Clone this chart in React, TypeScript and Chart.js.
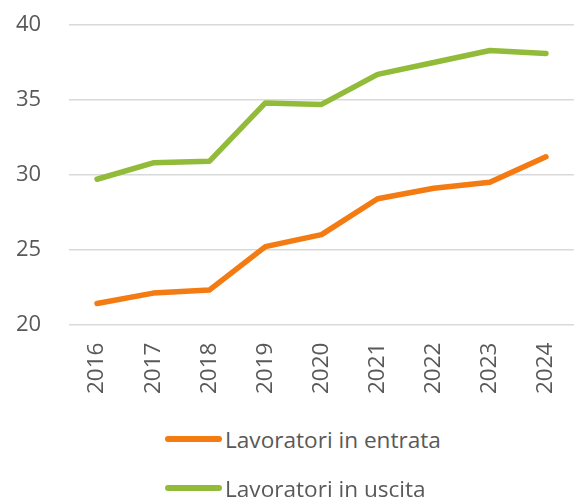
import React, { useEffect, useRef } from "react";
import { Chart, registerables } from "chart.js";

Chart.register(...registerables);

const years = ["2016", "2017", "2018", "2019", "2020", "2021", "2022", "2023", "2024"];
const entrata = [21.4, 22.1, 22.3, 25.2, 26.0, 28.4, 29.1, 29.5, 31.2];
const uscita = [29.7, 30.8, 30.9, 34.8, 34.7, 36.7, 37.5, 38.3, 38.1];
const seriesNames = ["Lavoratori in entrata", "Lavoratori in uscita"];
const seriesColors = ["#F47A12", "#92BB3A"];

const FONT = "'Open Sans', sans-serif";
const TEXT = "#595959";

export default function App() {
  const ref = useRef<HTMLCanvasElement | null>(null);

  useEffect(() => {
    if (!ref.current) return;
    const chart = new Chart(ref.current, {
      type: "line",
      data: {
        labels: years,
        datasets: [
          {
            label: seriesNames[0],
            data: entrata,
            borderColor: seriesColors[0],
            backgroundColor: seriesColors[0],
            borderWidth: 5.5,
            pointRadius: 0,
            tension: 0,
            borderCapStyle: "round",
            borderJoinStyle: "round",
          },
          {
            label: seriesNames[1],
            data: uscita,
            borderColor: seriesColors[1],
            backgroundColor: seriesColors[1],
            borderWidth: 5.5,
            pointRadius: 0,
            tension: 0,
            borderCapStyle: "round",
            borderJoinStyle: "round",
          },
        ],
      },
      options: {
        responsive: false,
        animation: false,
        layout: { autoPadding: false, padding: { top: 25, left: 16, right: 0, bottom: 16 } },
        plugins: { legend: { display: false }, tooltip: { enabled: false } },
        scales: {
          x: {
            offset: true,
            grid: { display: false, drawTicks: true, tickLength: 18 },
            border: { display: false },
            ticks: {
              minRotation: 90,
              maxRotation: 90,
              padding: 0,
              color: TEXT,
              font: { family: FONT, size: 22.5 },
            },
          },
          y: {
            min: 20,
            max: 40,
            grid: { color: "#D9D9D9", lineWidth: 1.5, drawTicks: false },
            border: { display: false },
            afterFit: (scale: any) => {
              scale.width = 53;
            },
            ticks: {
              stepSize: 5,
              padding: 0,
              crossAlign: "far",
              color: TEXT,
              font: { family: FONT, size: 22 },
            },
          },
        },
      },
    });
    return () => chart.destroy();
  }, []);

  const legendItem = (i: number, top: number) => (
    <div
      key={i}
      style={{
        position: "absolute",
        left: 165,
        top: top,
        height: 30,
        display: "flex",
        alignItems: "center",
        whiteSpace: "nowrap",
      }}
    >
      <div
        style={{
          width: 57,
          height: 6,
          borderRadius: 3,
          background: seriesColors[i],
          marginRight: 3,
        }}
      />
      <span style={{ fontFamily: FONT, fontSize: 22.6, color: TEXT }}>{seriesNames[i]}</span>
    </div>
  );

  return (
    <div style={{ position: "fixed", left: 0, top: 0, width: 574, height: 497, background: "#fff" }}>
      <canvas ref={ref} width={574} height={410} style={{ display: "block" }} />
      {legendItem(0, 424)}
      {legendItem(1, 473)}
    </div>
  );
}
